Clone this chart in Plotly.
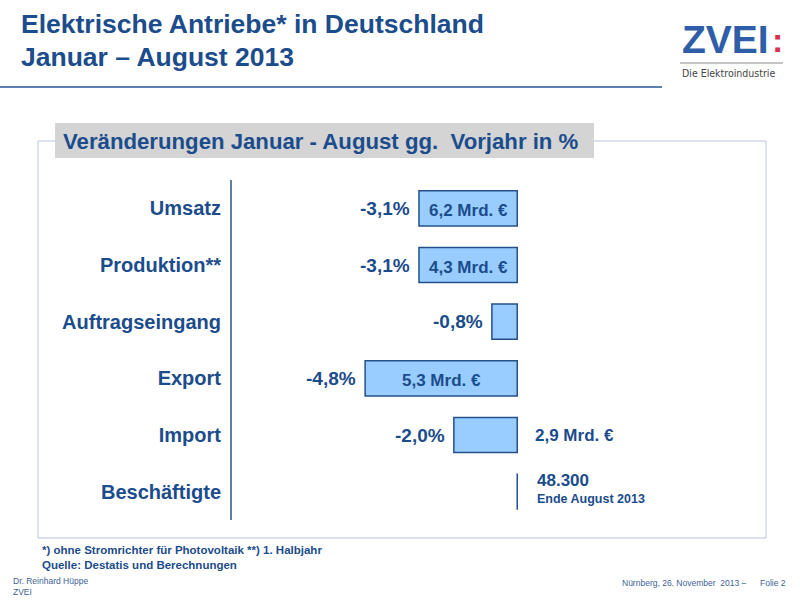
import plotly.graph_objects as go

# ---- data ----
categories = ["Umsatz", "Produktion**", "Auftragseingang", "Export", "Import", "Beschäftigte"]
change_pct = [-3.1, -3.1, -0.8, -4.8, -2.0, None]
change_labels = ["-3,1%", "-3,1%", "-0,8%", "-4,8%", "-2,0%", ""]
amount_labels = ["6,2 Mrd. €", "4,3 Mrd. €", "", "5,3 Mrd. €", "2,9 Mrd. €", "48.300"]
amount_place = ["inside", "inside", None, "inside", "right", "right"]
employee_note = "Ende August 2013"

title_lines = ["Elektrische Antriebe* in Deutschland", "Januar – August 2013"]
header = "Veränderungen Januar - August gg.&nbsp; Vorjahr in %"
footnote = ["*) ohne Stromrichter für Photovoltaik **) 1. Halbjahr", "Quelle: Destatis und Berechnungen"]

# ---- layout geometry ----
W, H = 800, 600
ML, MR, MT, MB = 232, 156, 180, 80
PW, PH = W - ML - MR, H - MT - MB


def px(x):
    return (x - ML) / PW


def py(y):
    return (H - MB - y) / PH


BLUE = "#1B4C8C"
FONT = "Liberation Sans, Arial, sans-serif"

fig = go.Figure()
fig.add_trace(go.Bar(
    y=categories, x=change_pct, orientation="h", width=0.62,
    marker=dict(color="#99CCFF", line=dict(color="#24508A", width=1.5)),
    hoverinfo="skip",
))

ann = []
shapes = []

# percentage labels and amount labels
for i, cat in enumerate(categories):
    v = change_pct[i]
    if v is not None and change_labels[i]:
        ann.append(dict(x=v, y=cat, xref="x", yref="y", text="<b>%s</b>" % change_labels[i],
                        xanchor="right", yanchor="middle", xshift=-7, showarrow=False,
                        font=dict(family=FONT, size=19, color=BLUE)))
    place = amount_place[i]
    if place == "inside":
        ann.append(dict(x=v / 2, y=cat, xref="x", yref="y", text="<b>%s</b>" % amount_labels[i],
                        xanchor="center", yanchor="middle", yshift=-2, showarrow=False,
                        font=dict(family=FONT, size=17, color=BLUE)))
    elif place == "right":
        if v is None:
            ann.append(dict(x=0, y=cat, xref="x", yref="y", text="<b>%s</b>" % amount_labels[i],
                            xanchor="left", yanchor="middle", xshift=18, yshift=11, showarrow=False,
                            font=dict(family=FONT, size=17, color=BLUE)))
            ann.append(dict(x=0, y=cat, xref="x", yref="y", text="<b>%s</b>" % employee_note,
                            xanchor="left", yanchor="middle", xshift=18, yshift=-7, showarrow=False,
                            font=dict(family=FONT, size=12.5, color=BLUE)))
            shapes.append(dict(type="line", xref="x", yref="y", x0=0, x1=0,
                               y0=i - 0.32, y1=i + 0.32, line=dict(color="#24508A", width=1.5)))
        else:
            ann.append(dict(x=0, y=cat, xref="x", yref="y", text="<b>%s</b>" % amount_labels[i],
                            xanchor="left", yanchor="middle", xshift=16, showarrow=False,
                            font=dict(family=FONT, size=17, color=BLUE)))

# frame and header box
shapes.insert(0, dict(type="rect", xref="paper", yref="paper", x0=px(38), x1=px(766), y0=py(538), y1=py(141),
                      line=dict(color="#B3C6DD", width=1), fillcolor="rgba(0,0,0,0)", layer="below"))
shapes.append(dict(type="rect", xref="paper", yref="paper", x0=px(55), x1=px(594), y0=py(158), y1=py(123),
                   line=dict(width=0), fillcolor="#D4D4D4"))
# title underline
shapes.append(dict(type="line", xref="paper", yref="paper", x0=px(0), x1=px(662), y0=py(87), y1=py(87),
                   line=dict(color="#5B7FAE", width=2)))
# logo rule
shapes.append(dict(type="line", xref="paper", yref="paper", x0=px(680), x1=px(783), y0=py(63), y1=py(63),
                   line=dict(color="#8C8C8C", width=1)))

ann.append(dict(x=px(61), y=py(141), xref="paper", yref="paper", text="<b>%s</b>" % header,
                xanchor="left", yanchor="middle", showarrow=False,
                font=dict(family=FONT, size=22.2, color=BLUE)))

# titles
for t, yy in zip(title_lines, [24, 57]):
    ann.append(dict(x=px(19), y=py(yy), xref="paper", yref="paper", text="<b>%s</b>" % t,
                    xanchor="left", yanchor="middle", showarrow=False,
                    font=dict(family=FONT, size=26.5, color=BLUE)))

# logo
ann.append(dict(x=px(680), y=py(40), xref="paper", yref="paper", text="<b>ZVEI</b>",
                xanchor="left", yanchor="middle", showarrow=False,
                font=dict(family=FONT, size=39, color="#2E5EA8")))
ann.append(dict(x=px(770), y=py(40), xref="paper", yref="paper", text="<b>:</b>",
                xanchor="left", yanchor="middle", showarrow=False,
                font=dict(family=FONT, size=34, color="#D9304F")))
ann.append(dict(x=px(680), y=py(73), xref="paper", yref="paper", text="Die Elektroindustrie",
                xanchor="left", yanchor="middle", showarrow=False,
                font=dict(family="DejaVu Sans Condensed, DejaVu Sans, sans-serif", size=10.5, color="#444444")))

# footnotes
for t, yy in zip(footnote, [550, 565]):
    ann.append(dict(x=px(40), y=py(yy), xref="paper", yref="paper", text="<b>%s</b>" % t,
                    xanchor="left", yanchor="middle", showarrow=False,
                    font=dict(family=FONT, size=11.5, color=BLUE)))

SMALL = dict(family=FONT, size=8.5, color="#3E6296")
for t, xx, yy, anc in [("Dr. Reinhard Hüppe", 11, 581, "left"), ("ZVEI", 11, 592, "left"),
                       ("Nürnberg, 26. November&nbsp; 2013 –", 749, 583, "right"),
                       ("Folie 2", 788, 583, "right")]:
    ann.append(dict(x=px(xx), y=py(yy), xref="paper", yref="paper", text=t,
                    xanchor=anc, yanchor="middle", showarrow=False, font=SMALL))

fig.update_layout(
    width=W, height=H, autosize=False,
    margin=dict(l=ML, r=MR, t=MT, b=MB),
    paper_bgcolor="white", plot_bgcolor="white",
    showlegend=False,
    xaxis=dict(range=[-9, 4], visible=False, fixedrange=True),
    yaxis=dict(range=[5.5, -0.5], type="category", showgrid=False, zeroline=False,
               showline=True, linecolor="#5F7FA8", linewidth=2,
               ticks="outside", ticklen=5, tickcolor="rgba(0,0,0,0)",
               tickfont=dict(family=FONT, size=20, color=BLUE, weight="bold")),
    annotations=ann, shapes=shapes,
    bargap=0.38,
)

fig.write_html("out.html")
